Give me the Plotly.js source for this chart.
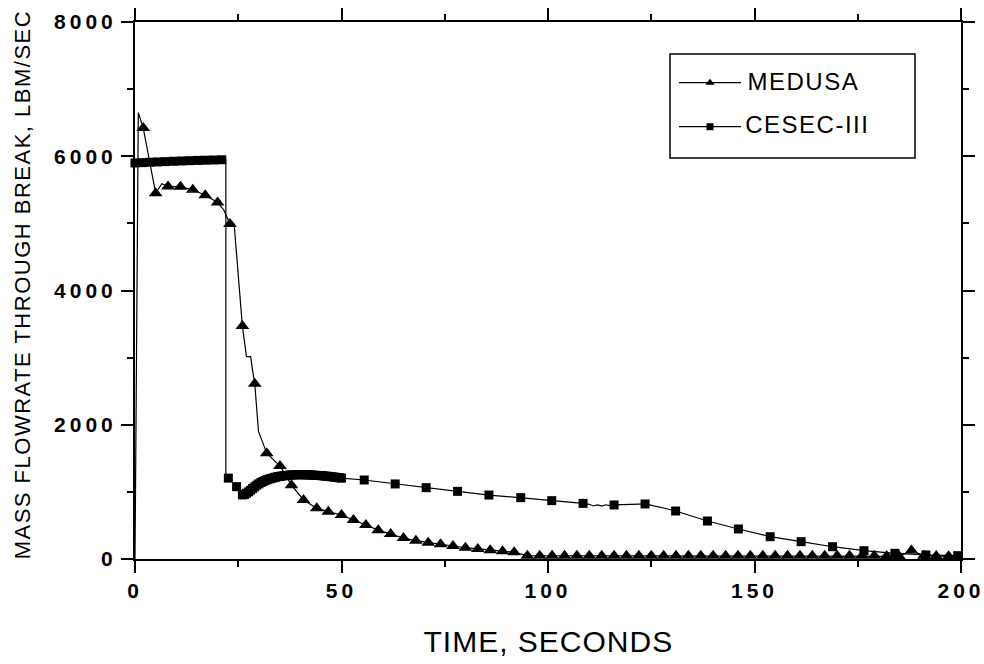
<!DOCTYPE html>
<html>
<head>
<meta charset="utf-8">
<script src="https://cdn.plot.ly/plotly-3.0.1.min.js"></script>
<style>
  body { margin: 0; background: #fff; }
  #chart { width: 984px; height: 664px; }
  .xtick text, .ytick text { letter-spacing: 4px; }
  .annotation[data-index="0"] text { letter-spacing: 1px; }
  .annotation[data-index="1"] text { letter-spacing: 1.5px; }
  .annotation[data-index="2"] text, .annotation[data-index="3"] text { letter-spacing: 1.5px; }
</style>
</head>
<body>
<div id="chart"></div>
<script>
// ---------------- data ----------------
const medusaT = [0, 0.8, 2, 5, 6.5, 8, 11, 14, 17, 20, 21.5, 23, 24, 25, 26, 27, 28, 28.5, 29, 29.9,
  31.9, 35.1, 37.9, 40.8, 44, 46.8, 50, 52.9, 55.9, 58.9, 61.9, 65, 68, 71, 74, 77, 80, 83, 86, 89, 91.8,
  95, 98, 101, 104, 107, 110, 113, 116, 119, 122, 125, 128, 131, 134, 137, 140, 143, 146, 149, 152, 155,
  158, 161, 164, 167, 170, 173, 176, 179, 182, 185, 188, 191, 194, 197];
const medusaY = [0, 6650, 6420, 5450, 5590, 5550, 5545, 5500, 5420, 5310, 5200, 4990, 4990, 4200, 3470, 3015, 3015, 2800, 2610, 1900,
  1575, 1385, 1100, 880, 755, 705, 655, 580, 505, 430, 373, 313, 273, 243, 219, 194, 168, 149, 130, 115, 100,
  50, 50, 50, 50, 50, 50, 50, 50, 50, 50, 50, 50, 50, 50, 50, 50, 50, 50, 50, 50, 50,
  50, 50, 50, 50, 50, 50, 50, 50, 45, 40, 125, 50, 45, 40];
const medusaMark = [0, 0, 1, 1, 0, 1, 1, 1, 1, 1, 0, 1, 0, 0, 1, 0, 0, 0, 1, 0,
  1, 1, 1, 1, 1, 1, 1, 1, 1, 1, 1, 1, 1, 1, 1, 1, 1, 1, 1, 1, 1,
  1, 1, 1, 1, 1, 1, 1, 1, 1, 1, 1, 1, 1, 1, 1, 1, 1, 1, 1, 1, 1,
  1, 1, 1, 1, 1, 1, 1, 1, 1, 1, 1, 1, 1, 1];

const cesecT = [0, 1.8, 3.6, 5.4, 7.3, 9.3, 11.3, 13.2, 15.1, 17, 19, 21, 22, 22, 22.6, 24.6,
  26, 26.5, 27, 27.5, 28, 28.5, 29, 29.5, 30, 30.5, 31, 31.5, 32, 32.5, 33, 33.5, 34, 34.5, 35, 35.5,
  36, 36.5, 37, 37.5, 38, 38.5, 39, 39.5, 40, 40.5, 41, 41.5, 42, 42.5, 43, 43.5, 44, 44.5, 45, 45.5,
  46, 46.5, 47, 47.5, 48, 48.5, 49, 49.5, 50,
  55.5, 63, 70.5, 78.1, 85.7, 93.4, 100.9, 108.5, 110, 111, 112, 113, 114, 115, 116, 118, 120, 122, 123.5,
  126, 129, 130.9, 138.6, 146.1, 153.8, 161.3, 168.9, 176.5, 184, 191.5, 199.2];
const cesecY = [5900, 5905, 5910, 5915, 5920, 5925, 5930, 5934, 5938, 5941, 5944, 5948, 5950, 1200, 1205, 1078,
  955, 960, 980, 1000, 1025, 1050, 1075, 1100, 1120, 1140, 1155, 1170, 1180, 1192, 1200, 1210, 1218, 1225, 1230, 1236,
  1240, 1244, 1247, 1250, 1252, 1254, 1255, 1256, 1256, 1256, 1255, 1254, 1253, 1252, 1250, 1248, 1246, 1244, 1242, 1239,
  1236, 1233, 1230, 1226, 1222, 1218, 1214, 1210, 1205,
  1177, 1118, 1063, 1008, 953, 914, 869, 829, 815, 790, 805, 788, 808, 795, 805, 812, 815, 818, 820,
  790, 745, 715, 566, 447, 332, 258, 183, 124, 85, 60, 50];
const cesecMark = [1, 1, 1, 1, 1, 1, 1, 1, 1, 1, 1, 1, 0, 0, 1, 1,
  1, 1, 1, 1, 1, 1, 1, 1, 1, 1, 1, 1, 1, 1, 1, 1, 1, 1, 1, 1,
  1, 1, 1, 1, 1, 1, 1, 1, 1, 1, 1, 1, 1, 1, 1, 1, 1, 1, 1, 1,
  1, 1, 1, 1, 1, 1, 1, 1, 1,
  1, 1, 1, 1, 1, 1, 1, 1, 0, 0, 0, 0, 0, 0, 1, 0, 0, 0, 1,
  0, 0, 1, 1, 1, 1, 1, 1, 1, 1, 1, 1];

const seriesNames = ['MEDUSA', 'CESEC-III'];
const xTickVals = [0, 50, 100, 150, 200];
const yTickVals = [0, 2000, 4000, 6000, 8000];
const xTitle = 'TIME, SECONDS';
const yTitle = 'MASS FLOWRATE THROUGH BREAK, LBM/SEC';

// ---------------- styling ----------------
const FONT = 'Liberation Sans, Arial, Helvetica, sans-serif';
const TRI = 12, SQ = 9;

// legend layout (pixel space of the plot area, origin bottom-left)
const LEG = { x0: 535, x1: 780, y0: 401, y1: 505, lineX0: 544, lineX1: 606, symX: 575, textX: 615,
  rowLine: [476.3, 432.3], rowText: [477.2, 434.3] };

const pick = (arr, flags) => arr.filter((_, i) => flags[i]);

const traces = [
  { x: medusaT, y: medusaY, mode: 'lines', name: seriesNames[0], showlegend: false,
    line: { color: '#000', width: 1.2 }, cliponaxis: false },
  { x: pick(medusaT, medusaMark), y: pick(medusaY, medusaMark), mode: 'markers', name: seriesNames[0],
    showlegend: false, marker: { symbol: 'triangle-up', color: '#000', size: TRI, line: { width: 0 } },
    cliponaxis: false },
  { x: cesecT, y: cesecY, mode: 'lines', name: seriesNames[1], showlegend: false,
    line: { color: '#000', width: 1.2 }, cliponaxis: false },
  { x: pick(cesecT, cesecMark), y: pick(cesecY, cesecMark), mode: 'markers', name: seriesNames[1],
    showlegend: false, marker: { symbol: 'square', color: '#000', size: SQ, line: { width: 0 } },
    cliponaxis: false },
  // legend keys on a hidden pixel-space overlay axis
  { x: [LEG.symX], y: [LEG.rowLine[0]], xaxis: 'x2', yaxis: 'y2', mode: 'markers', showlegend: false,
    hoverinfo: 'skip', marker: { symbol: 'triangle-up', size: 8, color: '#000', line: { width: 0 } } },
  { x: [LEG.symX], y: [LEG.rowLine[1]], xaxis: 'x2', yaxis: 'y2', mode: 'markers', showlegend: false,
    hoverinfo: 'skip', marker: { symbol: 'square', size: 7, color: '#000', line: { width: 0 } } }
];

const shapes = [
  { type: 'rect', xref: 'x2', yref: 'y2', x0: LEG.x0, x1: LEG.x1, y0: LEG.y0, y1: LEG.y1,
    line: { color: '#000', width: 1.5 }, fillcolor: 'rgba(0,0,0,0)' },
  { type: 'line', xref: 'x2', yref: 'y2', x0: LEG.lineX0, x1: LEG.lineX1, y0: LEG.rowLine[0], y1: LEG.rowLine[0],
    line: { color: '#000', width: 1.2 } },
  { type: 'line', xref: 'x2', yref: 'y2', x0: LEG.lineX0, x1: LEG.lineX1, y0: LEG.rowLine[1], y1: LEG.rowLine[1],
    line: { color: '#000', width: 1.2 } }
];

const annotations = [
  { text: xTitle, xref: 'paper', yref: 'paper', x: 0.5, y: -0.1542, xanchor: 'center', yanchor: 'middle',
    showarrow: false, font: { family: FONT, size: 30, color: '#000' } },
  { text: yTitle, xref: 'paper', yref: 'paper', x: -0.1364, y: 0.5121, xanchor: 'center', yanchor: 'middle',
    textangle: -90, showarrow: false, font: { family: FONT, size: 22, color: '#000' } },
  { text: seriesNames[0], xref: 'x2', yref: 'y2', x: LEG.textX, y: LEG.rowText[0], xanchor: 'left', yanchor: 'middle',
    showarrow: false, font: { family: FONT, size: 24, color: '#000' } },
  { text: seriesNames[1], xref: 'x2', yref: 'y2', x: LEG.textX, y: LEG.rowText[1], xanchor: 'left', yanchor: 'middle',
    showarrow: false, font: { family: FONT, size: 24, color: '#000' } }
];

const axisCommon = {
  showgrid: false, zeroline: false, showline: true, linecolor: '#000', linewidth: 2,
  mirror: 'ticks', ticks: 'outside', ticklen: 12, tickwidth: 2, tickcolor: '#000',
  tickfont: { family: FONT, size: 21, color: '#000', weight: 'bold' },
  ticklabeloverflow: 'allow',
  automargin: false
};

const layout = {
  width: 984, height: 664,
  margin: { l: 135, r: 23, t: 22, b: 105 },
  paper_bgcolor: '#fff', plot_bgcolor: '#fff',
  showlegend: false,
  xaxis: Object.assign({}, axisCommon, {
    range: [0, 200], tickmode: 'array', tickvals: xTickVals, ticktext: xTickVals.map(String),
    minor: { dtick: 25, tick0: 0, ticks: 'outside', ticklen: 6, tickwidth: 2, tickcolor: '#000', showgrid: false },
    ticklabelstandoff: 0
  }),
  yaxis: Object.assign({}, axisCommon, {
    range: [0, 8000], tickmode: 'array', tickvals: yTickVals, ticktext: yTickVals.map(String),
    minor: { dtick: 1000, tick0: 0, ticks: 'outside', ticklen: 6, tickwidth: 2, tickcolor: '#000', showgrid: false },
    ticklabelstandoff: 0
  }),
  xaxis2: { overlaying: 'x', anchor: 'y2', range: [0, 826], visible: false, fixedrange: true },
  yaxis2: { overlaying: 'y', anchor: 'x2', range: [0, 537], visible: false, fixedrange: true },
  shapes: shapes,
  annotations: annotations
};

Plotly.newPlot('chart', traces, layout, { staticPlot: true, displayModeBar: false });
</script>
</body>
</html>
